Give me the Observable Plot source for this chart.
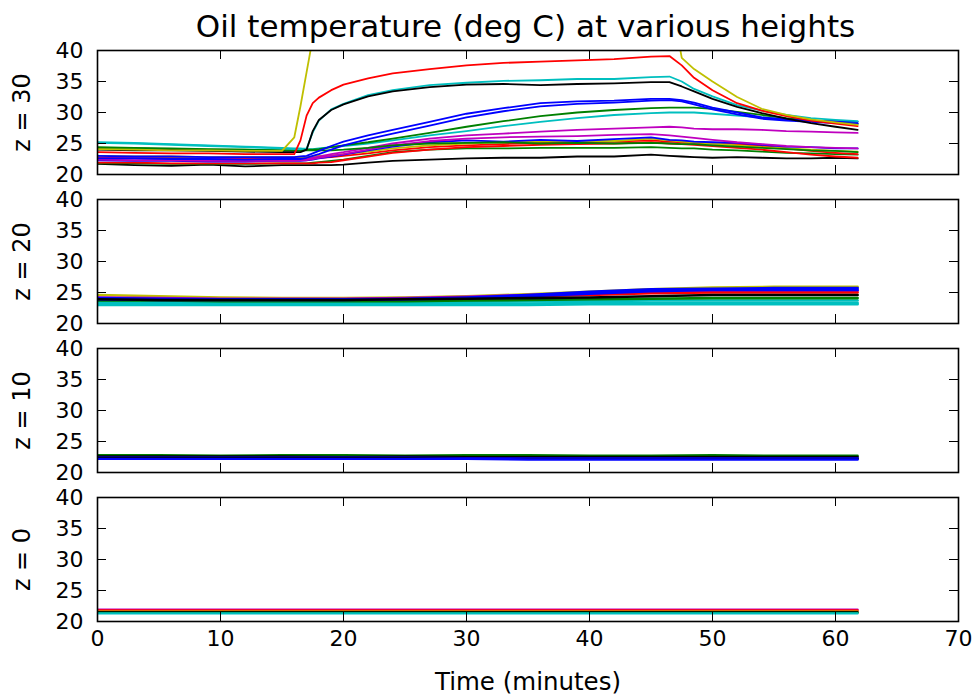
<!DOCTYPE html>
<html><head><meta charset="utf-8">
<script src="https://cdn.jsdelivr.net/npm/d3@7"></script>
<script src="https://cdn.jsdelivr.net/npm/@observablehq/plot@0.6"></script>
<style>
body{margin:0;background:#fff;}
#wrap{position:relative;width:974px;height:698px;font-family:"DejaVu Sans",sans-serif;overflow:hidden;}
#title{position:absolute;left:0;width:1051px;top:11px;text-align:center;font-size:31px;line-height:30px;color:#000;}
.panel{position:absolute;left:0;}
</style></head>
<body><div id="wrap"><div id="title">Oil temperature (deg C) at various heights</div></div>
<script>
// ---------- data ----------
const title = "Oil temperature (deg C) at various heights";
const xLabel = "Time (minutes)";
const panelLabels = ["z = 30", "z = 20", "z = 10", "z = 0"];
const xTicks = [0, 10, 20, 30, 40, 50, 60, 70];
const yTicks = [20, 25, 30, 35, 40];

// z = 30 : sample times (minutes)
const t30 = [0,3,6,9,12,15, 16,16.5,17,17.5,18, 19,20,22,24,27, 30,33,36,39,42,45, 46.5,47.5,48.5,50,52, 54,56,58,60,61.8];
const z30_yellow  = [24.1,24.0,23.9,23.9,23.8,23.8, 26.0,31.0,36.5,42.0,46.0, 50,54,58,60,61, 61,61,61,61,61,60, 50,38.8,37.0,35.0,32.5, 30.6,29.6,28.9,28.4,28.0];
const z30_red     = [23.6,23.5,23.4,23.4,23.3,23.3, 23.3,25.5,29.5,31.5,32.4, 33.6,34.5,35.5,36.3,37.0, 37.6,38.0,38.2,38.4,38.6,39.0, 39.1,37.6,35.6,33.6,31.5, 30.3,29.4,28.7,28.2,27.8];
const z30_cyan    = [25.1,25.0,24.8,24.6,24.4,24.2, 24.1,24.1,24.2,26.8,28.7, 30.5,31.4,32.8,33.6,34.4, 34.8,35.1,35.2,35.4,35.4,35.7, 35.8,35.0,33.8,32.6,31.2, 30.3,29.6,29.1,28.8,28.6];
const z30_black   = [24.0,23.9,23.9,23.8,23.7,23.6, 23.6,23.6,24.0,27.0,28.8, 30.4,31.3,32.6,33.4,34.1, 34.5,34.6,34.4,34.6,34.7,34.9, 34.9,34.2,33.4,32.2,30.9, 29.9,29.0,28.3,27.7,27.2];
const z30_blue1   = [23.0,22.9,22.9,22.8,22.8,22.8, 22.8,22.9,23.0,23.4,23.8, 24.6,25.3,26.3,27.2,28.5, 29.8,30.7,31.5,31.8,31.9,32.2, 32.2,32.0,31.6,30.8,30.0, 29.2,28.9,28.7,28.6,28.5];
const z30_blue2   = [22.6,22.6,22.5,22.5,22.4,22.5, 22.5,22.5,22.7,23.0,23.3, 24.0,24.7,25.7,26.6,27.9, 29.2,30.2,31.0,31.4,31.6,31.9, 32.0,31.8,31.3,30.5,29.7, 29.0,28.7,28.5,28.3,28.2];
const z30_green1  = [24.4,24.3,24.2,24.1,24.0,23.9, 23.9,23.9,24.0,24.0,24.1, 24.4,24.7,25.2,25.8,26.7, 27.7,28.6,29.4,30.0,30.4,30.7, 30.8,30.8,30.8,30.6,30.1, 29.6,29.1,28.7,28.4,28.2];
const z30_cyan2   = [25.2,25.1,24.9,24.7,24.5,24.3, 24.2,24.2,24.1,24.1,24.2, 24.4,24.6,25.0,25.5,26.3, 27.0,27.8,28.5,29.1,29.6,29.9, 30.0,30.0,30.0,29.8,29.5, 29.2,28.9,28.7,28.6,28.5];
const z30_magenta1= [22.6,22.6,22.5,22.5,22.4,22.4, 22.4,22.4,22.5,22.7,22.9, 23.3,23.6,24.3,25.0,25.8, 26.3,26.6,26.9,27.2,27.4,27.6, 27.7,27.6,27.4,27.3,27.3, 27.2,27.0,26.9,26.8,26.7];
const z30_magenta2= [22.4,22.3,22.3,22.2,22.2,22.2, 22.2,22.3,22.3,22.5,22.7, 23.0,23.3,24.0,24.7,25.4, 25.8,26.0,26.1,26.2,26.4,26.5, 26.3,26.1,25.9,25.6,25.2, 24.9,24.6,24.4,24.3,24.2];
const z30_blue3   = [22.3,22.2,22.2,22.1,22.1,22.2, 22.2,22.2,22.3,22.4,22.6, 22.9,23.2,23.9,24.5,25.2, 25.5,25.3,25.6,25.4,25.7,26.0, 25.6,25.5,25.3,25.2,25.1, 24.8,24.5,24.4,24.2,24.2];
const z30_red2    = [22.8,22.7,22.7,22.6,22.6,22.6, 22.6,22.6,22.6,22.6,22.7, 22.8,23.0,23.4,23.9,24.4, 24.7,24.9,25.1,25.2,25.3,25.5, 25.3,25.2,25.1,25.0,24.9, 24.6,24.2,23.8,23.5,23.3];
const z30_yellow2 = [23.0,22.9,22.9,22.8,22.8,22.8, 22.8,22.8,22.8,22.9,23.0, 23.1,23.3,23.7,24.2,24.7, 25.0,25.2,25.3,25.4,25.4,25.8, 25.5,25.3,25.2,25.0,24.7, 24.4,24.2,24.0,23.8,23.7];
const z30_green2  = [21.8,21.8,21.7,21.7,21.7,21.8, 21.8,21.8,21.8,21.9,22.0, 22.2,22.4,23.0,23.6,24.0, 24.2,24.2,24.3,24.3,24.3,24.4, 24.3,24.2,24.2,24.0,23.9, 23.7,23.5,23.4,23.3,23.2];
const z30_red3    = [21.9,21.9,21.8,21.8,21.8,21.8, 21.8,21.8,21.8,21.8,21.9, 22.0,22.3,22.9,23.5,24.0, 24.4,24.6,24.8,24.9,25.0,25.2, 25.0,24.9,24.8,24.6,24.3, 24.0,23.6,23.2,22.9,22.7];
const z30_black2  = [21.7,21.5,21.4,21.6,21.3,21.5, 21.5,21.5,21.5,21.5,21.5, 21.5,21.6,21.9,22.2,22.4, 22.6,22.7,22.7,22.9,22.9,23.2, 23.0,22.9,22.8,22.7,22.8, 22.7,22.6,22.6,22.7,22.6];
const z30_green3  = [24.2,24.2,24.1,24.0,24.0,23.9, 23.9,23.9,23.9,23.9,23.9, 23.9,24.0,24.3,24.7,25.0, 25.1,25.2,25.0,25.1,25.0,25.1, 25.0,24.9,24.9,24.7,24.5, 24.3,24.1,23.9,23.8,23.6];

// z = 20, 10, 0 : sample times (minutes)
const tLow = [0,5,10,15,20,25,30,35,40,45,50,55,61.8];
const z20_cyan3   = [23.0,23.0,23.0,23.0,23.0,23.0,23.0,23.0,23.1,23.1,23.1,23.1,23.1];
const z20_cyan2   = [23.2,23.2,23.2,23.2,23.2,23.2,23.2,23.2,23.3,23.3,23.3,23.3,23.3];
const z20_cyan    = [23.5,23.5,23.5,23.5,23.5,23.5,23.5,23.6,23.6,23.7,23.7,23.7,23.7];
const z20_green   = [23.7,23.7,23.6,23.6,23.6,23.6,23.7,23.8,23.9,24.0,24.1,24.1,24.1];
const z20_yellow  = [24.6,24.4,24.2,24.1,24.1,24.2,24.4,24.7,25.1,25.5,25.8,25.9,25.9];
const z20_magenta = [24.2,24.1,24.0,24.0,24.0,24.1,24.3,24.6,24.9,25.2,25.3,25.3,25.3];
const z20_red     = [24.0,23.9,23.9,23.9,23.9,24.0,24.2,24.4,24.6,24.9,25.0,25.0,25.0];
const z20_blue2   = [23.9,23.8,23.8,23.8,23.8,23.9,24.1,24.4,24.8,25.2,25.4,25.4,25.4];
const z20_blue    = [24.1,24.0,23.9,23.9,23.9,24.0,24.2,24.6,25.1,25.5,25.6,25.7,25.7];
const z20_black   = [23.9,23.8,23.8,23.8,23.8,23.9,24.0,24.1,24.2,24.4,24.6,24.6,24.6];

const z10_green   = [22.8,22.8,22.7,22.8,22.8,22.7,22.8,22.8,22.7,22.7,22.8,22.7,22.7];
const z10_black   = [22.6,22.6,22.6,22.6,22.5,22.6,22.5,22.5,22.5,22.5,22.5,22.5,22.5];
const z10_blue    = [22.4,22.4,22.4,22.4,22.4,22.4,22.3,22.3,22.3,22.3,22.3,22.3,22.3];
const z10_black2  = [22.3,22.3,22.3,22.3,22.3,22.3,22.2,22.2,22.2,22.2,22.2,22.2,22.2];
const z10_blue2   = [22.2,22.2,22.2,22.2,22.2,22.2,22.2,22.1,22.1,22.1,22.1,22.1,22.1];

const z0_magenta  = [21.9,21.9,21.9,21.9,21.9,21.9,21.9,21.9,21.9,21.9,21.9,21.9,21.9];
const z0_red      = [21.8,21.8,21.8,21.8,21.8,21.8,21.8,21.8,21.8,21.8,21.8,21.8,21.8];
const z0_yellow   = [21.6,21.6,21.6,21.6,21.6,21.6,21.6,21.6,21.6,21.6,21.6,21.6,21.6];
const z0_black    = [21.5,21.5,21.5,21.5,21.5,21.5,21.5,21.5,21.5,21.5,21.5,21.5,21.5];
const z0_green    = [21.4,21.4,21.4,21.4,21.4,21.4,21.4,21.4,21.4,21.4,21.4,21.4,21.4];
const z0_cyan     = [21.3,21.3,21.3,21.3,21.3,21.3,21.3,21.3,21.3,21.3,21.3,21.3,21.3];

// ---------- styles (matplotlib classic colours) ----------
const C = {b:"#0000ff", g:"#008000", r:"#ff0000", c:"#00bfbf", m:"#bf00bf", y:"#bfbf00", k:"#000000"};
const panels = [
  {t: t30, sw: 1.8, series: [
    [z30_black2,"k"],[z30_green2,"g"],[z30_red3,"r"],[z30_red2,"r"],[z30_yellow2,"y"],[z30_blue3,"b"],
    [z30_magenta2,"m"],[z30_magenta1,"m"],[z30_green3,"g"],[z30_cyan2,"c"],[z30_green1,"g"],
    [z30_blue2,"b"],[z30_blue1,"b"],[z30_cyan,"c"],[z30_black,"k"],[z30_red,"r"],[z30_yellow,"y"]]},
  {t: tLow, sw: 2.6, series: [
    [z20_cyan3,"c"],[z20_cyan2,"c"],[z20_cyan,"c"],[z20_green,"g"],[z20_yellow,"y"],[z20_magenta,"m"],[z20_red,"r"],
    [z20_blue2,"b"],[z20_blue,"b"],[z20_black,"k"]]},
  {t: tLow, sw: 2.4, series: [
    [z10_green,"g"],[z10_black,"k"],[z10_blue,"b"],[z10_black2,"k"],[z10_blue2,"b"]]},
  {t: tLow, sw: 2.2, series: [
    [z0_magenta,"m"],[z0_red,"r"],[z0_yellow,"y"],[z0_black,"k"],[z0_green,"g"],[z0_cyan,"c"]]}
];

const W = 974, ML = 97, MR = 16, INNER_H = 124, TICK = 9;
const innerW = W - ML - MR;
const tops = [50, 199, 348, 497];
const wrap = document.getElementById("wrap");

panels.forEach((p, i) => {
  const rows = [];
  p.series.forEach(([vals, col], si) => {
    vals.forEach((v, j) => rows.push({t: p.t[j], v, s: si, col: C[col]}));
  });
  const last = i === panels.length - 1;
  const mt = 6, mb = last ? 77 : 6;
  const marks = [
    Plot.line(rows, {x: "t", y: "v", z: "s", stroke: "col", strokeWidth: p.sw, clip: true}),
    Plot.tickY(yTicks.slice(1, -1), {y: d => d, stroke: "black", strokeWidth: 1, insetRight: innerW - TICK}),
    Plot.tickY(yTicks.slice(1, -1), {y: d => d, stroke: "black", strokeWidth: 1, insetLeft: innerW - TICK}),
    Plot.tickX(xTicks.slice(1, -1), {x: d => d, stroke: "black", strokeWidth: 1, insetTop: INNER_H - TICK}),
    Plot.tickX(xTicks.slice(1, -1), {x: d => d, stroke: "black", strokeWidth: 1, insetBottom: INNER_H - TICK}),
    Plot.frame({stroke: "black", strokeWidth: 1.6}),
    Plot.text([panelLabels[i]], {text: d => d, frameAnchor: "left", dx: -75, rotate: -90,
      textAnchor: "middle", lineAnchor: "middle", fill: "black", fontSize: 24})
  ];
  if (last) marks.push(Plot.text([xLabel], {text: d => d, frameAnchor: "bottom", dy: 61,
      textAnchor: "middle", lineAnchor: "middle", fill: "black", fontSize: 24.5}));
  const chart = Plot.plot({
    width: W, height: mt + INNER_H + mb,
    marginLeft: ML, marginRight: MR, marginTop: mt, marginBottom: mb,
    style: {fontFamily: "DejaVu Sans", fontSize: "22px", color: "black", background: "transparent", overflow: "visible"},
    x: {domain: [0, 70], ticks: xTicks, tickSize: 0, tickPadding: 9, label: null, axis: last ? "bottom" : null},
    y: {domain: [20, 40], ticks: yTicks, tickSize: 0, tickPadding: 14, label: null},
    color: {type: "identity"},
    marks
  });
  chart.classList.add("panel");
  chart.style.top = (tops[i] - mt) + "px";
  wrap.appendChild(chart);
});
</script>
</body></html>
